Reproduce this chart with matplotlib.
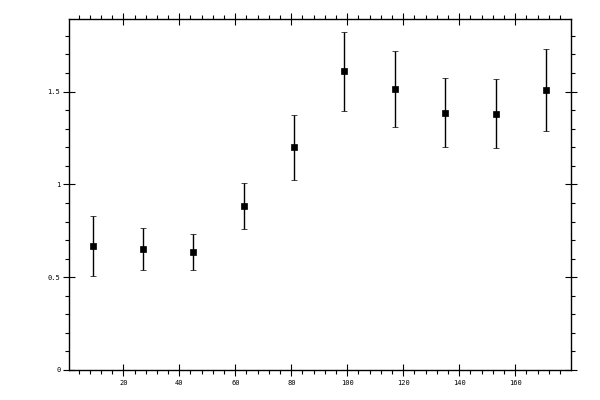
import numpy as np
import matplotlib
matplotlib.use("Agg")
import matplotlib.pyplot as plt
from matplotlib.ticker import MultipleLocator, FormatStrFormatter

x = [9, 27, 45, 63, 81, 99, 117, 135, 153, 171]
y = [0.670, 0.654, 0.638, 0.886, 1.199, 1.609, 1.512, 1.383, 1.377, 1.507]
y_hi = [0.832, 0.767, 0.735, 1.008, 1.375, 1.820, 1.717, 1.572, 1.566, 1.728]
y_lo = [0.508, 0.541, 0.541, 0.757, 1.021, 1.395, 1.307, 1.199, 1.194, 1.285]

y = np.array(y)
err = [y - np.array(y_lo), np.array(y_hi) - y]

fig = plt.figure(figsize=(6, 4), dpi=100)
ax = fig.add_axes([0.1155, 0.075, 0.8355, 0.877])

ax.errorbar(x, y, yerr=err, fmt='s', color='black', ms=4.6, mew=0.5,
            elinewidth=1, capsize=2.2, capthick=1)

ax.set_xlim(0.7, 179.8)
ax.set_ylim(0, 1.89)

ax.xaxis.set_major_locator(MultipleLocator(20))
ax.xaxis.set_minor_locator(MultipleLocator(4))
ax.yaxis.set_major_locator(MultipleLocator(0.5))
ax.yaxis.set_minor_locator(MultipleLocator(0.1))
ax.yaxis.set_major_formatter(FormatStrFormatter('%g'))

for s in ax.spines.values():
    s.set_linewidth(1)

ax.tick_params(which='major', direction='inout', length=8, width=0.8,
               top=True, right=True, labelsize=5)
ax.tick_params(which='minor', direction='out', length=3, width=0.8,
               top=True, right=True)
ax.tick_params(axis='x', which='major', pad=3.5)
ax.tick_params(axis='y', which='major', pad=2.5)
for lab in ax.get_xticklabels() + ax.get_yticklabels():
    lab.set_family('DejaVu Sans Mono')

fig.savefig('out.png', dpi=100)
